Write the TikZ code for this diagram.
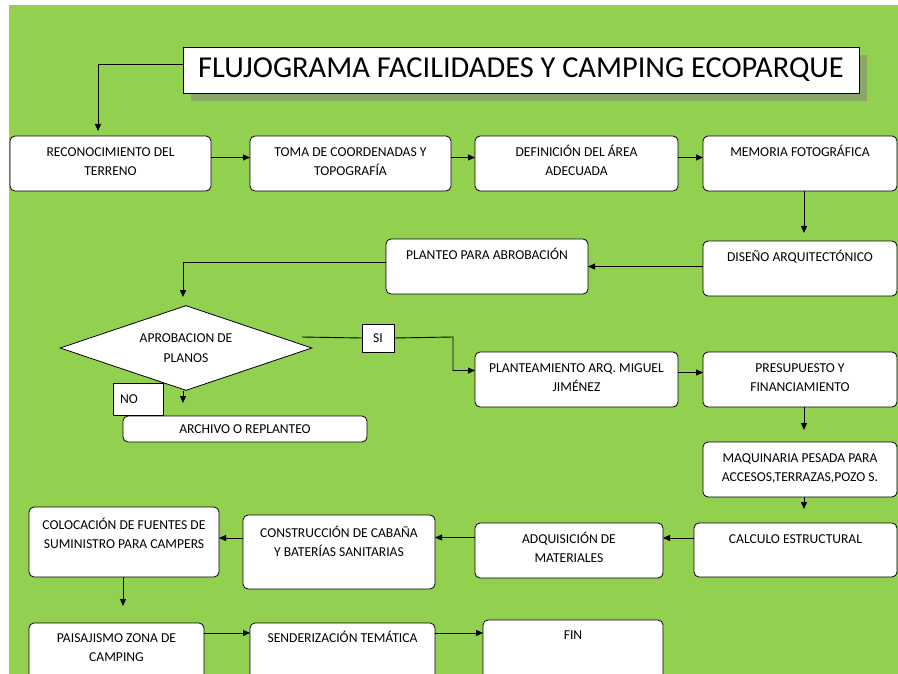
\documentclass[tikz,border=0pt]{standalone}
\usepackage{fontspec}
\setmainfont{Carlito}
\usetikzlibrary{arrows.meta,shapes.geometric,shadows}

\definecolor{fondo}{RGB}{146,208,80}
\definecolor{sombra}{RGB}{137,168,104}

\tikzset{
  caja/.style={draw=black, line width=0.8pt, fill=white, rounded corners=5pt, inner sep=0pt, outer sep=0pt},
  txt/.style={anchor=north, inner sep=0pt, yshift=-7pt, align=center, font=\fontsize{13.6}{19}\selectfont},
  etiq/.style={draw=black, line width=0.8pt, fill=white, inner sep=0pt, outer sep=0pt, font=\fontsize{13.6}{19}\selectfont},
  flecha/.style={line width=0.9pt, -{Triangle[length=7pt,width=6pt]}},
  linea/.style={line width=0.9pt}
}

\begin{document}
\begin{tikzpicture}[x=1pt, y=-1pt]
  \useasboundingbox (0,0) rectangle (898,674);
  % fondo verde
  \fill[fondo] (9,5) rectangle (898,674);

  % titulo con sombra
  \node[draw=black, line width=0.8pt, fill=white, inner sep=0pt, minimum width=676pt, minimum height=46pt,
        drop shadow={shadow xshift=8pt, shadow yshift=-8pt, fill=sombra, opacity=1},
        font=\fontsize{30.4}{34}\selectfont] (titulo) at (521,70) {FLUJOGRAMA FACILIDADES Y CAMPING ECOPARQUE};

  % Fila 1
  \node[caja, minimum width=201pt, minimum height=55pt, label={[txt]north:{\strut RECONOCIMIENTO DEL\\TERRENO}}] (reco) at (110.5,163.5) {};
  \node[caja, minimum width=201pt, minimum height=55pt, label={[txt]north:{\strut TOMA DE COORDENADAS Y\\TOPOGRAFÍA}}] (toma) at (350.5,163.5) {};
  \node[caja, minimum width=203pt, minimum height=55pt, label={[txt]north:{\strut DEFINICIÓN DEL ÁREA\\ADECUADA}}] (defi) at (576.5,163.5) {};
  \node[caja, minimum width=194pt, minimum height=55pt, label={[txt]north:{\strut MEMORIA FOTOGRÁFICA}}] (memo) at (800,163.5) {};

  % Fila 2
  \node[caja, minimum width=194pt, minimum height=55pt, label={[txt]north:{\strut DISEÑO ARQUITECTÓNICO}}] (dise) at (800,268.5) {};
  \node[caja, minimum width=202pt, minimum height=55pt, label={[txt]north:{\strut PLANTEO PARA ABROBACIÓN}}] (plnt) at (487,266.5) {};

  % Decision
  \node[diamond, draw=black, line width=0.8pt, fill=white, aspect=3, inner sep=0pt,
        minimum width=252pt, minimum height=85pt, align=center,
        font=\fontsize{13.6}{20}\selectfont] (aprob) at (186,348) {APROBACION DE\\PLANOS};
  \node[caja, minimum width=244pt, minimum height=26pt, font=\fontsize{13.6}{19}\selectfont] (arch) at (245,429) {ARCHIVO O REPLANTEO};
  \node[etiq, minimum width=50pt, minimum height=32pt, text width=36pt, inner xsep=7pt, align=left] (no) at (138,399) {NO};
  \node[etiq, minimum width=32pt, minimum height=28pt] (si) at (378,338) {SI};

  % Fila 3
  \node[caja, minimum width=203pt, minimum height=55pt, label={[txt]north:{\strut PLANTEAMIENTO ARQ. MIGUEL\\JIMÉNEZ}}] (pmig) at (576.5,379.5) {};
  \node[caja, minimum width=194pt, minimum height=55pt, label={[txt]north:{\strut PRESUPUESTO Y\\FINANCIAMIENTO}}] (pres) at (800,379.5) {};
  \node[caja, minimum width=194pt, minimum height=55pt, label={[txt]north:{\strut MAQUINARIA PESADA PARA\\ACCESOS,TERRAZAS,POZO S.}}] (maqu) at (800,469.5) {};

  % Fila 4
  \node[caja, minimum width=203pt, minimum height=54pt, label={[txt]north:{\strut CALCULO ESTRUCTURAL}}] (calc) at (795.5,550) {};
  \node[caja, minimum width=188pt, minimum height=55pt, label={[txt]north:{\strut ADQUISICIÓN DE\\MATERIALES}}] (adqu) at (569,550.5) {};
  \node[caja, minimum width=192pt, minimum height=74pt, label={[txt, yshift=-2pt]north:{\strut CONSTRUCCIÓN DE CABAÑA\\Y BATERÍAS SANITARIAS}}] (cons) at (339,552) {};
  \node[caja, minimum width=190pt, minimum height=70pt, label={[txt, yshift=-2pt]north:{\strut COLOCACIÓN DE FUENTES DE\\SUMINISTRO PARA CAMPERS}}] (colo) at (124,542) {};

  % Fila 5
  \node[caja, minimum width=175pt, minimum height=67pt, label={[txt, yshift=1pt]north:{\strut PAISAJISMO ZONA DE\\CAMPING}}] (pais) at (116.5,656.5) {};
  \node[caja, minimum width=185pt, minimum height=67pt, label={[txt, yshift=1pt]north:{\strut SENDERIZACIÓN TEMÁTICA}}] (send) at (342.5,656.5) {};
  \node[caja, minimum width=180pt, minimum height=70pt, label={[txt, yshift=1pt]north:{\strut FIN}}] (fin) at (573,655) {};

  % Conectores
  \draw[flecha, shorten >=5pt] ([yshift=6pt]titulo.west) -| ([xshift=-12.5pt]reco.north);
  \draw[flecha] ([yshift=6pt]reco.east) -- ([yshift=6pt]toma.west);
  \draw[flecha] ([yshift=6pt]toma.east) -- ([yshift=6pt]defi.west);
  \draw[flecha] ([yshift=6pt]defi.east) -- ([yshift=6pt]memo.west);
  \draw[flecha, shorten >=8pt] ([xshift=4pt]memo.south) -- ([xshift=4pt]dise.north);
  \draw[flecha] (plnt.east -| dise.west) -- (plnt.east);
  \draw[flecha, shorten >=8pt] ([yshift=4pt]plnt.west) -| ([xshift=-3pt]aprob.north);
  \coordinate (siA) at (302,337);
  \coordinate (siB) at (453,337);
  \draw[linea] (siA) -- (si.west);
  \draw[flecha] (si.east) -- (siB) |- ([yshift=9pt]pmig.west);
  \draw[flecha, shorten >=13pt] ([xshift=-3pt]aprob.south) -- ([xshift=-3pt]aprob.south |- arch.north);
  \draw[flecha] ([yshift=7pt]pmig.east) -- ([yshift=7pt]pres.west);
  \draw[flecha, shorten >=12pt] ([xshift=4pt]pres.south) -- ([xshift=4pt]maqu.north);
  \draw[flecha, shorten >=14pt] ([xshift=4pt]maqu.south) -- ([xshift=4pt]maqu.south |- calc.north);
  \draw[flecha] ([yshift=12pt]calc.west) -- ([yshift=12pt]calc.west -| adqu.east);
  \draw[flecha] ([yshift=13pt]adqu.west) -- ([yshift=13pt]adqu.west -| cons.east);
  \draw[flecha] ([yshift=14pt]cons.west) -- ([yshift=14pt]cons.west -| colo.east);
  \draw[flecha, shorten >=17pt] ([xshift=-1pt]colo.south) -- ([xshift=-1pt]colo.south |- pais.north);
  \draw[flecha] ([yshift=23.5pt]pais.east) -- ([yshift=23.5pt]send.west);
  \draw[flecha] ([yshift=23.5pt]send.east) -- ([yshift=23.5pt]send.east -| fin.west);
\end{tikzpicture}
\end{document}
